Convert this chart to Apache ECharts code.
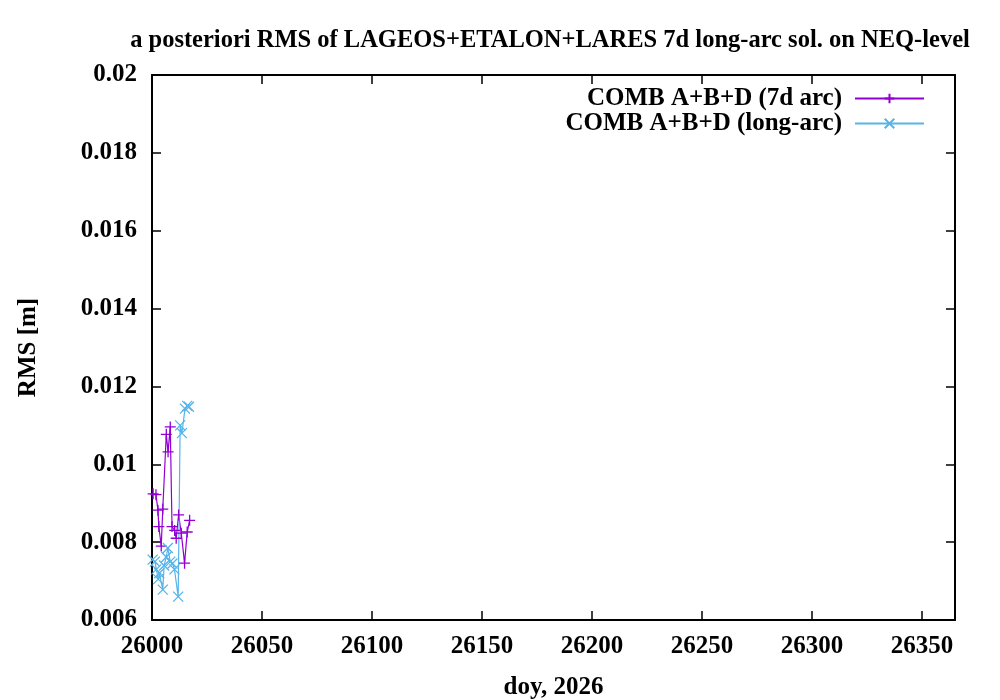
<!DOCTYPE html>
<html><head><meta charset="utf-8">
<script src="https://cdn.jsdelivr.net/npm/echarts@6/dist/echarts.min.js"></script>
<style>html,body{margin:0;padding:0;background:#fff}#c{width:1000px;height:700px}</style>
</head><body><div id="c"></div>
<script>
const titleText = 'a posteriori RMS of LAGEOS+ETALON+LARES 7d long-arc sol. on NEQ-level';
const seriesNames = ['COMB A+B+D (7d arc)', 'COMB A+B+D (long-arc)'];
const xLabel = 'doy, 2026';
const yLabel = 'RMS [m]';

const arc7Days = [26000.5, 26001.8, 26002.7, 26003.1, 26004.2, 26004.9, 26006.5, 26007.3, 26008.3, 26009.1, 26010.3, 26011.0, 26012.1, 26013.3, 26014.8, 26016.0, 26017.1];
const arc7Rms  = [0.00924, 0.00922, 0.00882, 0.00840, 0.00790, 0.00885, 0.01077, 0.01032, 0.01096, 0.00840, 0.00830, 0.00810, 0.00870, 0.00823, 0.00746, 0.00826, 0.00856];

const longDays = [26000.3, 26001.3, 26002.0, 26002.8, 26003.3, 26004.9, 26005.5, 26006.5, 26007.2, 26008.3, 26009.3, 26010.2, 26011.9, 26012.8, 26013.6, 26015.0, 26016.0, 26016.8];
const longRms  = [0.00755, 0.00750, 0.00730, 0.00705, 0.00720, 0.00678, 0.00740, 0.00762, 0.00785, 0.00750, 0.00745, 0.00730, 0.00660, 0.01100, 0.01080, 0.01143, 0.01150, 0.01148];

const xMin = 26000, xMax = 26365, xStep = 50;
const yMin = 0.006, yMax = 0.02, yStep = 0.002;

const purple = '#9400d3', blue = '#56b4e9';
const font = 'Liberation Serif';
const fs = 25;
const plusPath = 'path://M0,5L10,5M5,0L5,10';
const crossPath = 'path://M0,0L10,10M10,0L0,10';

const chart = echarts.init(document.getElementById('c'), null, {renderer: 'canvas'});
const axisCommon = {
  type: 'value', scale: false,
  axisLine: {show: true, onZero: false, lineStyle: {color: '#000', width: 2}},
  axisTick: {show: true, inside: true, length: 9, lineStyle: {color: '#000', width: 1.5}},
  splitLine: {show: false}
};
const txt = {fontFamily: font, fontWeight: 'bold', fontSize: fs, color: '#000'};
chart.setOption({
  animation: false,
  backgroundColor: '#fff',
  title: {text: titleText, left: 550, top: 28, textAlign: 'center', padding: 0,
    textStyle: Object.assign({}, txt, {fontSize: 24.5})},
  grid: {left: 152, right: 45, top: 75, bottom: 80, containLabel: false, outerBoundsMode: 'none'},
  legend: {
    orient: 'vertical', right: 75, top: 86, align: 'right', itemGap: 0, padding: 0,
    itemWidth: 69, itemHeight: 12,
    textStyle: Object.assign({}, txt, {padding: [0, 8, 0, 0], lineHeight: 25}),
    data: seriesNames
  },
  xAxis: [
    Object.assign({}, axisCommon, {min: xMin, max: xMax, interval: xStep, position: 'bottom',
      name: xLabel, nameLocation: 'middle', nameGap: 55,
      nameTextStyle: txt,
      axisLabel: Object.assign({}, txt, {margin: 14, formatter: v => String(v)})}),
    Object.assign({}, axisCommon, {min: xMin, max: xMax, interval: xStep, position: 'top',
      axisLabel: {show: false}})
  ],
  yAxis: [
    Object.assign({}, axisCommon, {min: yMin, max: yMax, interval: yStep, position: 'left',
      name: yLabel, nameLocation: 'middle', nameGap: 111, nameRotate: 90,
      nameTextStyle: txt,
      axisLabel: Object.assign({}, txt, {margin: 15,
        formatter: v => String(parseFloat(v.toFixed(4)))})}),
    Object.assign({}, axisCommon, {min: yMin, max: yMax, interval: yStep, position: 'right',
      axisLabel: {show: false}})
  ],
  series: [
    {name: seriesNames[0], type: 'line', xAxisIndex: 0, yAxisIndex: 0,
     data: arc7Days.map((d, i) => [d, arc7Rms[i]]),
     symbol: plusPath, symbolSize: 11, showAllSymbol: true,
     lineStyle: {color: purple, width: 1.2},
     itemStyle: {color: 'none', borderColor: purple, borderWidth: 1.3},
     emphasis: {disabled: true}},
    {name: seriesNames[1], type: 'line', xAxisIndex: 0, yAxisIndex: 0,
     data: longDays.map((d, i) => [d, longRms[i]]),
     symbol: crossPath, symbolSize: 10, showAllSymbol: true,
     lineStyle: {color: blue, width: 1.2},
     itemStyle: {color: 'none', borderColor: blue, borderWidth: 1.3},
     emphasis: {disabled: true}}
  ]
});
</script></body></html>
